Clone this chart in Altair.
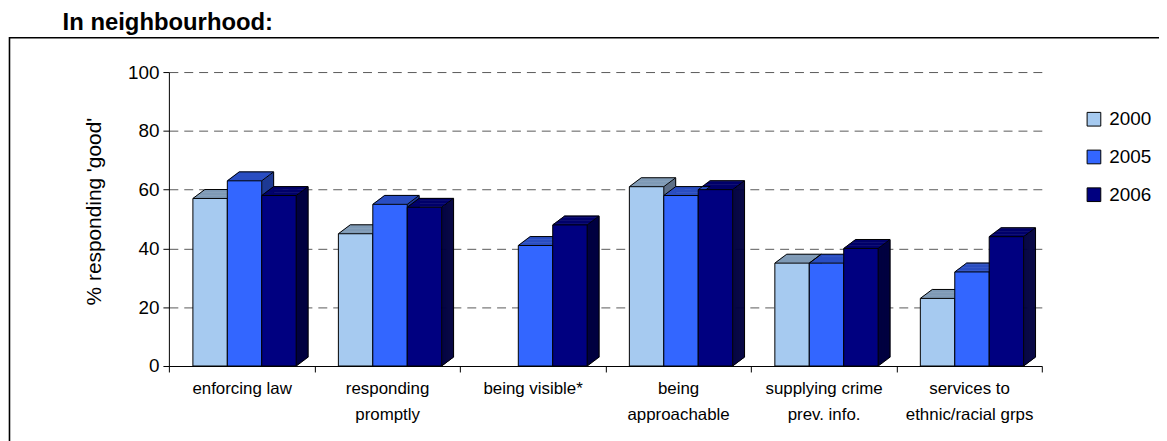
import altair as alt
import pandas as pd

categories = [
    "enforcing law",
    "responding\npromptly",
    "being visible*",
    "being\napproachable",
    "supplying crime\nprev. info.",
    "services to\nethnic/racial grps",
]
years = ["2000", "2005", "2006"]
v2000 = [57, 45, None, 61, 35, 23]
v2005 = [63, 55, 41, 58, 35, 32]
v2006 = [58, 54, 48, 60, 40, 44]
y_ticks = [0, 20, 40, 60, 80, 100]

front_colors = ["#A6CAF0", "#3366FF", "#000080"]
top_colors = ["#7F9AB6", "#2A4EC2", "#00006A"]
side_colors = ["#5E7088", "#1E3A94", "#000040"]

rows = []
for yi, (yr, vals) in enumerate(zip(years, [v2000, v2005, v2006])):
    for ci, (c, v) in enumerate(zip(categories, vals)):
        if v is not None:
            rows.append({"cat": c, "ci": ci, "year": yr, "yi": yi, "value": v})
df = pd.DataFrame(rows)

W, H = 879, 296
DX, DY = 12, 9
NSTRIP = 12
n = len(categories)
pad_outer = 0.613
frac = 1.0 / (len(years) + 2 * pad_outer)
start = pad_outer * frac + 0.02
FONT = "Liberation Sans"

xq_scale = alt.Scale(domain=[0, n], nice=False, zero=False)
y_scale = alt.Scale(domain=[0, 100], nice=False, zero=True)

y_axis = alt.Axis(
    values=y_ticks,
    title="% responding 'good'",
    titleFontSize=21,
    titleFontWeight="normal",
    titleColor="black",
    titleX=-75,
    titleY=H / 2 - 8,
    titleAngle=-90,
    titleAlign="center",
    titleBaseline="middle",
    labelFontSize=19,
    labelColor="black",
    labelPadding=4,
    tickSize=6,
    tickColor="black",
    domainColor="black",
    grid=True,
    gridDash=[9, 6],
    gridColor="#5a5a5a",
    gridWidth=1,
)

bars = alt.Chart(df).transform_calculate(
    xs=f"datum.ci + {start} + datum.yi * {frac}",
    xe=f"datum.ci + {start} + (datum.yi + 1) * {frac}",
)

X_S = alt.X("xs:Q", scale=xq_scale, axis=None)
X_E = alt.X("xe:Q", scale=xq_scale, axis=None)
Y_V = alt.Y("value:Q", scale=y_scale, axis=y_axis)


def col(colors, legend=None):
    return alt.Color("year:N", sort=years,
                     scale=alt.Scale(domain=years, range=colors), legend=legend)


sx = DX / NSTRIP
sy = DY / NSTRIP

# side faces (staircase approximation of the parallelogram)
side_layers = []
for k in range(1, NSTRIP + 1):
    side_layers.append(
        bars.mark_rect(
            xOffset=(k - 1) * sx - 0.3, x2Offset=k * sx + 0.3,
            yOffset=-(k - 0.5) * sy, y2Offset=-(k - 0.5) * sy,
        ).encode(x=X_E, x2="xe:Q", y=Y_V, y2=alt.Y2(datum=0), color=col(side_colors))
    )
side_edges = [
    # back vertical edge
    bars.mark_rule(color="black", strokeWidth=1, xOffset=DX, x2Offset=DX,
                   yOffset=-DY, y2Offset=-DY).encode(
        x=X_E, x2="xe:Q", y=Y_V, y2=alt.Y2(datum=0)),
    # bottom diagonal
    bars.mark_rule(color="black", strokeWidth=1, x2Offset=DX, y2Offset=-DY).encode(
        x=X_E, x2="xe:Q", y=alt.Y(datum=0, scale=y_scale, axis=y_axis),
        y2=alt.Y2(datum=0)),
]

# top faces
top_layers = []
for k in range(1, NSTRIP + 1):
    top_layers.append(
        bars.mark_rect(
            xOffset=(k - 0.5) * sx, x2Offset=(k - 0.5) * sx,
            yOffset=-k * sy - 0.3, y2Offset=-(k - 1) * sy + 0.3,
        ).encode(x=X_S, x2="xe:Q", y=Y_V, y2="value:Q", color=col(top_colors))
    )
top_edges = [
    # back top edge
    bars.mark_rule(color="black", strokeWidth=1, xOffset=DX, x2Offset=DX,
                   yOffset=-DY, y2Offset=-DY).encode(
        x=X_S, x2="xe:Q", y=Y_V, y2="value:Q"),
    # left diagonal
    bars.mark_rule(color="black", strokeWidth=1, x2Offset=DX, y2Offset=-DY).encode(
        x=X_S, x2="xs:Q", y=Y_V, y2="value:Q"),
    # right diagonal
    bars.mark_rule(color="black", strokeWidth=1, x2Offset=DX, y2Offset=-DY).encode(
        x=X_E, x2="xe:Q", y=Y_V, y2="value:Q"),
]

front_layer = bars.mark_rect(stroke="black", strokeWidth=1).encode(
    x=X_S,
    x2="xe:Q",
    y=Y_V,
    y2=alt.Y2(datum=0),
    color=col(
        front_colors,
        legend=alt.Legend(
            title=None,
            orient="none",
            legendX=922,
            legendY=38,
            symbolType="square",
            symbolSize=190,
            symbolStrokeColor="black",
            symbolStrokeWidth=1,
            labelFontSize=19,
            labelColor="black",
            labelOffset=6,
            rowPadding=18,
        ),
    ),
)

axis_layer = alt.Chart(pd.DataFrame({"cat": categories})).mark_point(opacity=0).encode(
    x=alt.X(
        "cat:N",
        sort=categories,
        scale=alt.Scale(domain=categories, paddingInner=0, paddingOuter=0),
        axis=alt.Axis(
            title=None,
            labelAngle=0,
            labelExpr="isValid(datum.value) ? split(datum.value, '\\n') : ''",
            labelFontSize=17,
            labelLineHeight=26,
            labelColor="black",
            labelPadding=9,
            tickBand="extent",
            tickSize=6,
            tickColor="black",
            domainColor="black",
            grid=False,
        ),
    ),
    y=alt.value(H),
)

frame = alt.Chart(pd.DataFrame({"f": [0]})).mark_rect(
    fill=None, stroke="black", strokeWidth=1.6, clip=False
).encode(
    x=alt.value(-160.5), y=alt.value(-34.5), x2=alt.value(2000), y2=alt.value(1000)
)

title = alt.Chart(pd.DataFrame({"t": ["In neighbourhood:"]})).mark_text(
    align="left", baseline="alphabetic", fontSize=24, fontWeight="bold",
    color="black", font=FONT,
).encode(text="t:N", x=alt.value(-107), y=alt.value(-42))

chart = (
    alt.layer(frame, title, *side_layers, *side_edges, *top_layers, *top_edges,
              front_layer, axis_layer)
    .resolve_scale(color="independent", x="independent")
    .properties(
        width=W,
        height=H,
        autosize=alt.AutoSizeParams(type="none"),
        padding={"left": 162, "top": 63, "right": 118, "bottom": 74},
    )
    .configure(font=FONT)
    .configure_view(stroke=None)
)

chart.save("out.html", embed_options={"renderer": "svg", "actions": False})
